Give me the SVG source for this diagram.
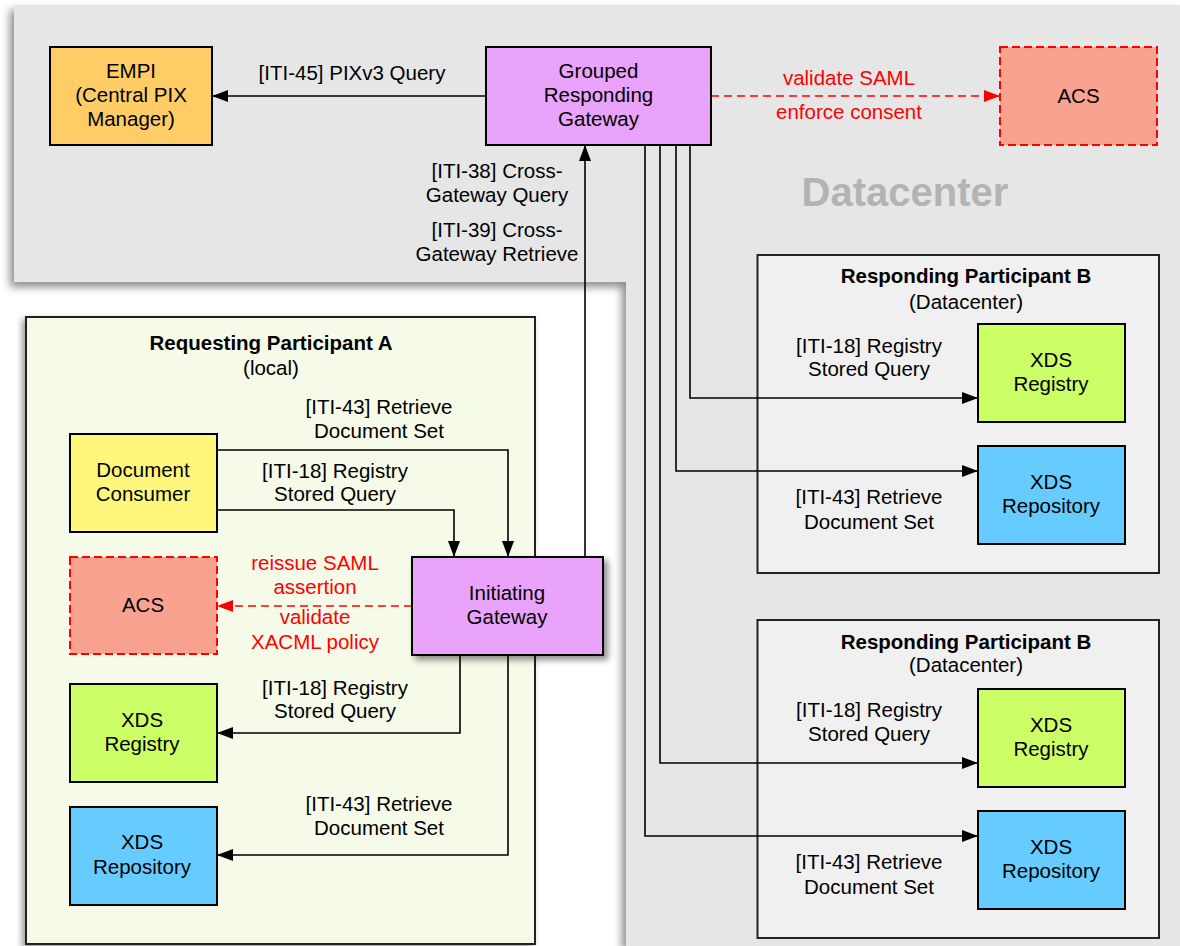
<svg xmlns="http://www.w3.org/2000/svg" width="1180" height="946" viewBox="0 0 1180 946">
<style>
  text { font-family: "Liberation Sans", Arial, sans-serif; font-size: 20.5px; fill: #000; text-anchor: middle; }
  .bold { font-weight: bold; }
  .red { fill: #ff0000; }
  .dc { font-size: 40px; font-weight: bold; fill: #b3b3b3; }
  .box { stroke: #000; stroke-width: 2; }
  .acs { fill: #f9a290; stroke: #ff0000; stroke-width: 2; stroke-dasharray: 8 4; }
  .gw { fill: #e9a3fa; }
  .reg { fill: #ccff66; }
  .rep { fill: #66ccff; }
  .part { stroke: #222; stroke-width: 2; }
  .conn { fill: none; stroke: #000; stroke-width: 1.6; marker-end: url(#ah); }
  .dash { fill: none; stroke: #ff0000; stroke-width: 1.6; stroke-dasharray: 8 5; marker-end: url(#ahr); }
</style>
<defs>
  <marker id="ah" viewBox="0 0 16 12" refX="16" refY="6" markerWidth="16" markerHeight="12" markerUnits="userSpaceOnUse" orient="auto">
    <path d="M0,0 L16,6 L0,12 z" fill="#000"/>
  </marker>
  <marker id="ahr" viewBox="0 0 16 12" refX="16" refY="6" markerWidth="16" markerHeight="12" markerUnits="userSpaceOnUse" orient="auto">
    <path d="M0,0 L16,6 L0,12 z" fill="#ff0000"/>
  </marker>
  <filter id="shDC" x="-10%" y="-10%" width="120%" height="120%">
    <feDropShadow dx="-4" dy="5" stdDeviation="4" flood-color="#000" flood-opacity="0.45"/>
  </filter>
  <filter id="shA" x="-10%" y="-10%" width="120%" height="120%">
    <feDropShadow dx="-3" dy="3" stdDeviation="3" flood-color="#000" flood-opacity="0.4"/>
  </filter>
  <filter id="shGW" x="-20%" y="-20%" width="140%" height="140%">
    <feDropShadow dx="4" dy="4" stdDeviation="3" flood-color="#000" flood-opacity="0.45"/>
  </filter>
</defs>
<rect width="1180" height="946" fill="#ffffff"/>

<g id="datacenter">
  <path d="M14,5 H1180 V946 H626 V282 H14 Z" fill="#e6e6e6" filter="url(#shDC)"/>
  <text class="dc" x="905" y="206">Datacenter</text>
</g>

<g id="participant-a">
  <rect x="26" y="317" width="509" height="627" fill="#f6fae9" class="part" filter="url(#shA)"/>
  <text class="bold" x="271" y="350">Requesting Participant A</text>
  <text x="271" y="375">(local)</text>
</g>

<g id="participant-b1">
  <rect x="757.5" y="255" width="401.5" height="318" fill="#f0f0f0" class="part"/>
  <text class="bold" x="966" y="283">Responding Participant B</text>
  <text x="966" y="309">(Datacenter)</text>
</g>

<g id="participant-b2">
  <rect x="757.5" y="620" width="401.5" height="318" fill="#f0f0f0" class="part"/>
  <text class="bold" x="966" y="649">Responding Participant B</text>
  <text x="966" y="672">(Datacenter)</text>
</g>

<g id="connectors">
  <path class="conn" d="M486,96 H212"/>
  <path class="dash" d="M711,96 H1000"/>
  <path class="conn" d="M585,557 V145"/>
  <path class="conn" d="M690,145 V398 H978"/>
  <path class="conn" d="M676,145 V471 H978"/>
  <path class="conn" d="M660,145 V763 H978"/>
  <path class="conn" d="M645,145 V836 H978"/>
  <path class="conn" d="M217,450 H508 V557"/>
  <path class="conn" d="M217,510 H454 V557"/>
  <path class="dash" d="M412,606 H217"/>
  <path class="conn" d="M460,655 V733 H217"/>
  <path class="conn" d="M508,655 V855 H217"/>

  <text x="352" y="80">[ITI-45] PIXv3 Query</text>
  <text class="red" x="849" y="85">validate SAML</text>
  <text class="red" x="849" y="119">enforce consent</text>
  <text x="497" y="178">[ITI-38] Cross-</text>
  <text x="497" y="202">Gateway Query</text>
  <text x="497" y="237">[ITI-39] Cross-</text>
  <text x="497" y="261">Gateway Retrieve</text>

  <text x="869" y="353">[ITI-18] Registry</text>
  <text x="869" y="376">Stored Query</text>
  <text x="869" y="504">[ITI-43] Retrieve</text>
  <text x="869" y="529">Document Set</text>
  <text x="869" y="717">[ITI-18] Registry</text>
  <text x="869" y="741">Stored Query</text>
  <text x="869" y="869">[ITI-43] Retrieve</text>
  <text x="869" y="894">Document Set</text>

  <text x="379" y="414">[ITI-43] Retrieve</text>
  <text x="379" y="438">Document Set</text>
  <text x="335" y="478">[ITI-18] Registry</text>
  <text x="335" y="501">Stored Query</text>
  <text class="red" x="315" y="570">reissue SAML</text>
  <text class="red" x="315" y="594">assertion</text>
  <text class="red" x="315" y="624">validate</text>
  <text class="red" x="315" y="649">XACML policy</text>
  <text x="335" y="695">[ITI-18] Registry</text>
  <text x="335" y="718">Stored Query</text>
  <text x="379" y="811">[ITI-43] Retrieve</text>
  <text x="379" y="835">Document Set</text>
</g>

<g id="empi">
  <rect x="50" y="47" width="162" height="98" fill="#ffcc66" class="box"/>
  <text x="131" y="78">EMPI</text>
  <text x="131" y="102">(Central PIX</text>
  <text x="131" y="126">Manager)</text>
</g>

<g id="grouped-gateway">
  <rect x="486" y="47" width="225" height="98" class="box gw"/>
  <text x="598.5" y="78">Grouped</text>
  <text x="598.5" y="102">Responding</text>
  <text x="598.5" y="126">Gateway</text>
</g>

<g id="acs-datacenter">
  <rect x="1000" y="47" width="157" height="98" class="acs"/>
  <text x="1078.5" y="103">ACS</text>
</g>

<g id="registry-b1">
  <rect x="978" y="324" width="147" height="98" class="box reg"/>
  <text x="1051" y="367">XDS</text>
  <text x="1051" y="391">Registry</text>
</g>

<g id="repository-b1">
  <rect x="978" y="446" width="147" height="98" class="box rep"/>
  <text x="1051" y="489">XDS</text>
  <text x="1051" y="513">Repository</text>
</g>

<g id="registry-b2">
  <rect x="978" y="689" width="147" height="98" class="box reg"/>
  <text x="1051" y="732">XDS</text>
  <text x="1051" y="756">Registry</text>
</g>

<g id="repository-b2">
  <rect x="978" y="811" width="147" height="98" class="box rep"/>
  <text x="1051" y="854">XDS</text>
  <text x="1051" y="878">Repository</text>
</g>

<g id="document-consumer">
  <rect x="70" y="434" width="147" height="98" fill="#fef77c" class="box"/>
  <text x="143" y="477">Document</text>
  <text x="143" y="501">Consumer</text>
</g>

<g id="acs-local">
  <rect x="70" y="557" width="147" height="97" class="acs"/>
  <text x="143" y="612">ACS</text>
</g>

<g id="initiating-gateway">
  <rect x="412" y="557" width="191" height="98" class="box gw" filter="url(#shGW)"/>
  <text x="507" y="600">Initiating</text>
  <text x="507" y="624">Gateway</text>
</g>

<g id="registry-a">
  <rect x="70" y="684" width="147" height="98" class="box reg"/>
  <text x="142" y="727">XDS</text>
  <text x="142" y="751">Registry</text>
</g>

<g id="repository-a">
  <rect x="70" y="807" width="147" height="98" class="box rep"/>
  <text x="142" y="849">XDS</text>
  <text x="142" y="874">Repository</text>
</g>
</svg>
